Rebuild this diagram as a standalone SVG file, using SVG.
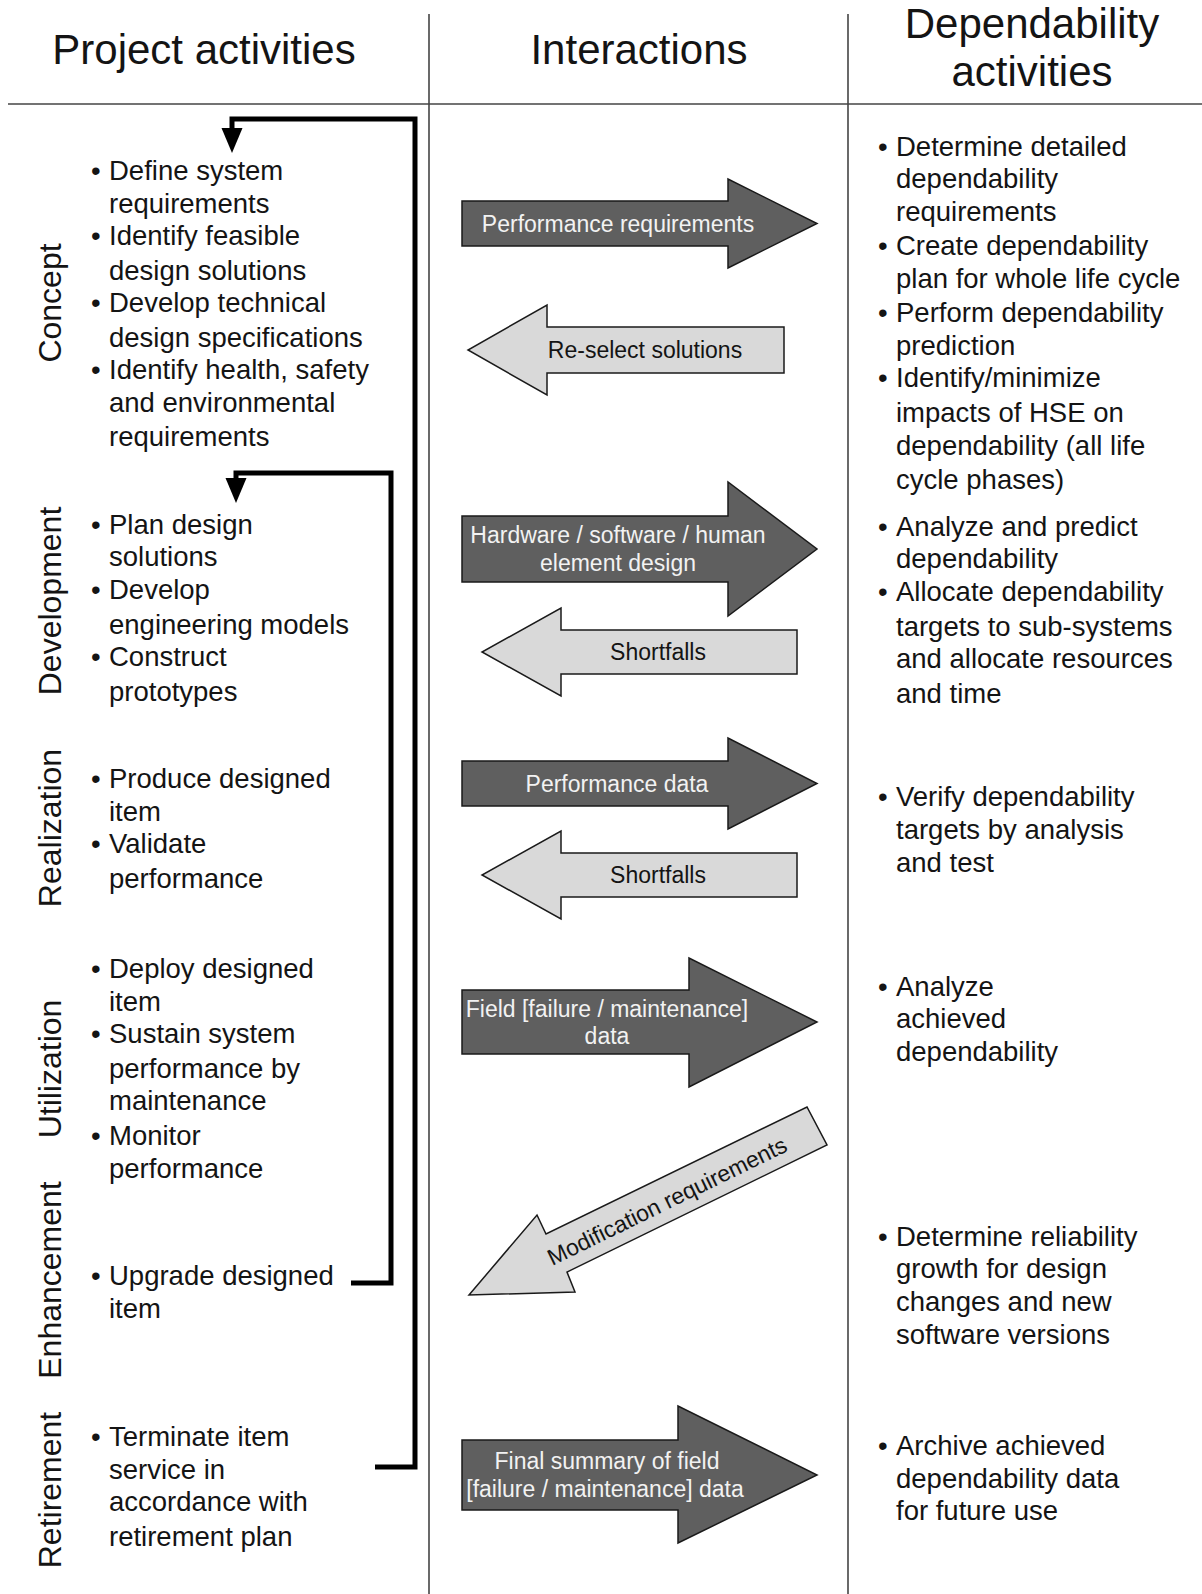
<svg xmlns="http://www.w3.org/2000/svg" width="1202" height="1594" viewBox="0 0 1202 1594">
<style>
text{font-family:"Liberation Sans",Arial,sans-serif;fill:#141414}
.hdr{font-size:42px;text-anchor:middle}
.row{font-size:32px;text-anchor:middle}
.b{font-size:27.5px}
.dl{font-size:23px;text-anchor:middle;fill:#f2f2f2}
.ll{font-size:23px;text-anchor:middle;fill:#141414}
.dark{fill:#5f5f5f;stroke:#1a1a1a;stroke-width:1.5;stroke-linejoin:miter}
.light{fill:#d9d9d9;stroke:#1a1a1a;stroke-width:1.5;stroke-linejoin:miter}
.grid{stroke:#444;stroke-width:1.6;fill:none}
.loop{stroke:#000;stroke-width:5;fill:none;stroke-linejoin:miter}
</style>
<defs>
<marker id="ah" markerUnits="userSpaceOnUse" viewBox="0 -11 26 22" markerWidth="26" markerHeight="22" refX="0" refY="0" orient="auto">
<path d="M0,-10.5 L25,0 L0,10.5 Z" fill="#000"/>
</marker>
</defs>
<rect width="1202" height="1594" fill="#fff"/>

<g id="grid">
<line class="grid" x1="8" y1="104" x2="1202" y2="104"/>
<line class="grid" x1="429" y1="14" x2="429" y2="1594"/>
<line class="grid" x1="848" y1="14" x2="848" y2="1594"/>
</g>

<g id="headers">
<text class="hdr" x="204" y="63.5">Project activities</text>
<text class="hdr" x="639" y="63.5">Interactions</text>
<text class="hdr" x="1032" y="38">Dependability</text>
<text class="hdr" x="1032" y="86">activities</text>
</g>

<g id="phase-labels">
<text class="row" transform="translate(61,303) rotate(-90)">Concept</text>
<text class="row" transform="translate(61,601) rotate(-90)">Development</text>
<text class="row" transform="translate(61,828) rotate(-90)">Realization</text>
<text class="row" transform="translate(61,1069) rotate(-90)">Utilization</text>
<text class="row" transform="translate(61,1280) rotate(-90)">Enhancement</text>
<text class="row" transform="translate(61,1490) rotate(-90)">Retirement</text>
</g>

<g id="project-concept">
<text class="b" x="91" y="180">•</text><text class="b" x="109" y="180">Define system</text>
<text class="b" x="109" y="212.5">requirements</text>
<text class="b" x="91" y="245">•</text><text class="b" x="109" y="245">Identify feasible</text>
<text class="b" x="109" y="279.5">design solutions</text>
<text class="b" x="91" y="312">•</text><text class="b" x="109" y="312">Develop technical</text>
<text class="b" x="109" y="347">design specifications</text>
<text class="b" x="91" y="379">•</text><text class="b" x="109" y="379">Identify health, safety</text>
<text class="b" x="109" y="412">and environmental</text>
<text class="b" x="109" y="446">requirements</text>
</g>
<g id="project-development">
<text class="b" x="91" y="534">•</text><text class="b" x="109" y="534">Plan design</text>
<text class="b" x="109" y="566">solutions</text>
<text class="b" x="91" y="599">•</text><text class="b" x="109" y="599">Develop</text>
<text class="b" x="109" y="634">engineering models</text>
<text class="b" x="91" y="666">•</text><text class="b" x="109" y="666">Construct</text>
<text class="b" x="109" y="701">prototypes</text>
</g>
<g id="project-realization">
<text class="b" x="91" y="788">•</text><text class="b" x="109" y="788">Produce designed</text>
<text class="b" x="109" y="821">item</text>
<text class="b" x="91" y="853">•</text><text class="b" x="109" y="853">Validate</text>
<text class="b" x="109" y="888">performance</text>
</g>
<g id="project-utilization">
<text class="b" x="91" y="978">•</text><text class="b" x="109" y="978">Deploy designed</text>
<text class="b" x="109" y="1011">item</text>
<text class="b" x="91" y="1043">•</text><text class="b" x="109" y="1043">Sustain system</text>
<text class="b" x="109" y="1078">performance by</text>
<text class="b" x="109" y="1110">maintenance</text>
<text class="b" x="91" y="1145">•</text><text class="b" x="109" y="1145">Monitor</text>
<text class="b" x="109" y="1178">performance</text>
</g>
<g id="project-enhancement">
<text class="b" x="91" y="1285">•</text><text class="b" x="109" y="1285">Upgrade designed</text>
<text class="b" x="109" y="1318">item</text>
</g>
<g id="project-retirement">
<text class="b" x="91" y="1446">•</text><text class="b" x="109" y="1446">Terminate item</text>
<text class="b" x="109" y="1479">service in</text>
<text class="b" x="109" y="1511">accordance with</text>
<text class="b" x="109" y="1546">retirement plan</text>
</g>

<g id="dep-concept">
<text class="b" x="878" y="156">•</text><text class="b" x="896" y="156">Determine detailed</text>
<text class="b" x="896" y="188">dependability</text>
<text class="b" x="896" y="221">requirements</text>
<text class="b" x="878" y="255">•</text><text class="b" x="896" y="255">Create dependability</text>
<text class="b" x="896" y="288">plan for whole life cycle</text>
<text class="b" x="878" y="322">•</text><text class="b" x="896" y="322">Perform dependability</text>
<text class="b" x="896" y="355">prediction</text>
<text class="b" x="878" y="387">•</text><text class="b" x="896" y="387">Identify/minimize</text>
<text class="b" x="896" y="422">impacts of HSE on</text>
<text class="b" x="896" y="455">dependability (all life</text>
<text class="b" x="896" y="489">cycle phases)</text>
</g>
<g id="dep-development">
<text class="b" x="878" y="536">•</text><text class="b" x="896" y="536">Analyze and predict</text>
<text class="b" x="896" y="568">dependability</text>
<text class="b" x="878" y="601">•</text><text class="b" x="896" y="601">Allocate dependability</text>
<text class="b" x="896" y="636">targets to sub-systems</text>
<text class="b" x="896" y="668">and allocate resources</text>
<text class="b" x="896" y="703">and time</text>
</g>
<g id="dep-realization">
<text class="b" x="878" y="806">•</text><text class="b" x="896" y="806">Verify dependability</text>
<text class="b" x="896" y="839">targets by analysis</text>
<text class="b" x="896" y="872">and test</text>
</g>
<g id="dep-utilization">
<text class="b" x="878" y="996">•</text><text class="b" x="896" y="996">Analyze</text>
<text class="b" x="896" y="1028">achieved</text>
<text class="b" x="896" y="1061">dependability</text>
</g>
<g id="dep-enhancement">
<text class="b" x="878" y="1246">•</text><text class="b" x="896" y="1246">Determine reliability</text>
<text class="b" x="896" y="1278">growth for design</text>
<text class="b" x="896" y="1311">changes and new</text>
<text class="b" x="896" y="1344">software versions</text>
</g>
<g id="dep-retirement">
<text class="b" x="878" y="1455">•</text><text class="b" x="896" y="1455">Archive achieved</text>
<text class="b" x="896" y="1488">dependability data</text>
<text class="b" x="896" y="1520">for future use</text>
</g>

<g id="connectors">
<g id="arrow-performance-requirements">
<polygon class="dark" points="462,201 728,201 728,179 817,223.5 728,268 728,246 462,246"/>
<text class="dl" x="618" y="232">Performance requirements</text>
</g>
<g id="arrow-reselect">
<polygon class="light" points="784,327 547,327 547,305 468,350 547,395 547,373 784,373"/>
<text class="ll" x="645" y="358">Re-select solutions</text>
</g>
<g id="arrow-hardware">
<polygon class="dark" points="462,516 728,516 728,482 817,549 728,616 728,582 462,582"/>
<text class="dl" x="618" y="543">Hardware / software / human</text>
<text class="dl" x="618" y="571">element design</text>
</g>
<g id="arrow-shortfalls-dev">
<polygon class="light" points="797,630 561,630 561,608 482,652 561,696 561,674 797,674"/>
<text class="ll" x="658" y="660">Shortfalls</text>
</g>
<g id="arrow-performance-data">
<polygon class="dark" points="462,761 728,761 728,738 817,783.5 728,829 728,806 462,806"/>
<text class="dl" x="617" y="792">Performance data</text>
</g>
<g id="arrow-shortfalls-real">
<polygon class="light" points="797,853 561,853 561,831 482,875 561,919 561,897 797,897"/>
<text class="ll" x="658" y="883">Shortfalls</text>
</g>
<g id="arrow-field-data">
<polygon class="dark" points="462,990 689,990 689,958 817,1022 689,1087 689,1054 462,1054"/>
<text class="dl" x="607" y="1017">Field [failure / maintenance]</text>
<text class="dl" x="607" y="1044">data</text>
</g>
<g id="arrow-modification">
<polygon class="light" points="469,1295 537,1215 546,1234 807,1107 827,1145 567,1272 575,1292"/>
<text class="ll" transform="translate(667,1201) rotate(-26)" y="8">Modification requirements</text>
</g>
<g id="arrow-final-summary">
<polygon class="dark" points="462,1440 678,1440 678,1406 817,1475 678,1543 678,1510 462,1510"/>
<text class="dl" x="607" y="1469">Final summary of field</text>
<text class="dl" x="605" y="1497">[failure / maintenance] data</text>
</g>
<g id="feedback-loops">
<polyline class="loop" points="375,1467 415,1467 415,119 232,119 232,128" marker-end="url(#ah)"/>
<polyline class="loop" points="351,1283 391,1283 391,473 236,473 236,478" marker-end="url(#ah)"/>
</g>
</g>
</svg>
